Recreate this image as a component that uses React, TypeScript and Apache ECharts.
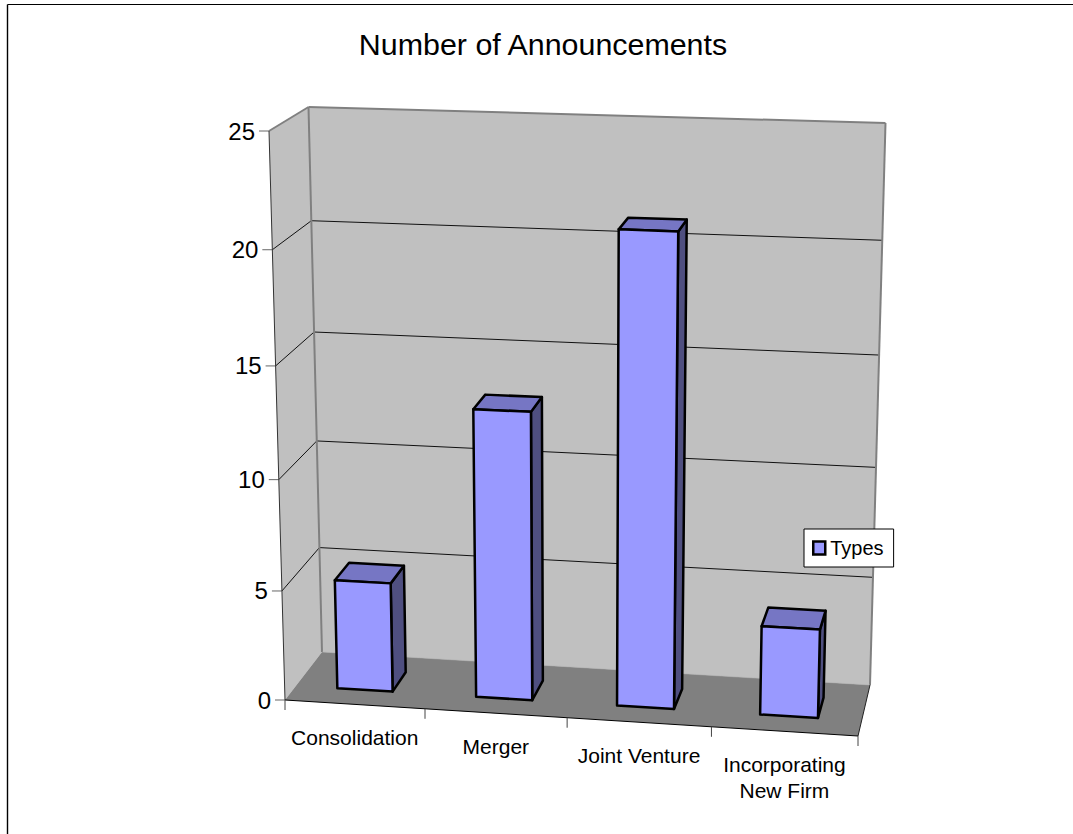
import React, { useEffect, useRef } from "react";
import * as echarts from "echarts";

const categories = ["Consolidation", "Merger", "Joint Venture", "Incorporating\nNew Firm"];
const typeCounts = [5, 13, 21, 4];
const valueTicks = [0, 5, 10, 15, 20, 25];
const titleText = "Number of Announcements";
const seriesName = "Types";

const FONT = '"Liberation Sans", Arial, sans-serif';
const VALUE_MAX = 25;

// Corners of the chart box as seen in perspective: [x, y] for front/back, bottom/top, left/right.
const BOX = {
  front: { bl: [285, 700], br: [858, 736], tl: [269, 131], tr: [873, 149] },
  back: { bl: [322, 652], br: [870, 685], tl: [308.5, 107], tr: [885.5, 123] },
};
// Homogeneous weights that give the receding, slightly uneven spacing along each edge.
const cornerWeight = (u: number, t: number) => (1 - 0.03 * u) * (1 - 0.052 * t);

// Maps a unit position in the box (u across, t up, d into the page) to screen pixels.
function project(u: number, t: number, d: number): number[] {
  let nx = 0;
  let ny = 0;
  let den = 0;
  const planes: [number, typeof BOX.front][] = [
    [0, BOX.front],
    [1, BOX.back],
  ];
  for (const [pd, plane] of planes) {
    const corners: [number, number, number[]][] = [
      [0, 0, plane.bl],
      [1, 0, plane.br],
      [0, 1, plane.tl],
      [1, 1, plane.tr],
    ];
    for (const [cu, ct, p] of corners) {
      const b = (cu ? u : 1 - u) * (ct ? t : 1 - t) * (pd ? d : 1 - d) * cornerWeight(cu, ct);
      nx += b * p[0];
      ny += b * p[1];
      den += b;
    }
  }
  return [nx / den, ny / den];
}

const GRID = { left: 100, top: 100, width: 800, height: 500 };
const WALL = "#c0c0c0";
const FLOOR = "#808080";
const EDGE = "#808080";
const BAR_FRONT = "#9999ff";
const BAR_TOP = "#7676c4";
const BAR_SIDE = "#4f4f80";
const BAR_DEPTH: [number, number] = [0.3, 0.7];
const BAR_SHARE = 0.4;
const BAR_STROKE = 2.5;

const poly = (points: number[][], fill: string, stroke?: string, lineWidth = 1) => ({
  type: "polygon",
  shape: { points },
  style: { fill, stroke: stroke ?? "none", lineWidth, lineJoin: "round" },
});
const seg = (a: number[], b: number[], stroke: string, lineWidth = 1) => ({
  type: "line",
  shape: { x1: a[0], y1: a[1], x2: b[0], y2: b[1] },
  style: { stroke, lineWidth, fill: "none" },
});

// Grey walls, floor, gridlines, ticks and the axis labels of the box.
function renderFrame(params: any, api: any) {
  const g = params.coordSys;
  const toT = (v: number) => 1 - (api.coord([0, v])[1] - g.y) / g.height;
  const band = api.size([1, 0])[0];
  const children: any[] = [];

  children.push(poly([project(0, 0, 0), project(0, 1, 0), project(0, 1, 1), project(0, 0, 1)], WALL));
  children.push(poly([project(0, 0, 1), project(0, 1, 1), project(1, 1, 1), project(1, 0, 1)], WALL));
  children.push(poly([project(0, 0, 0), project(0, 0, 1), project(1, 0, 1), project(1, 0, 0)], FLOOR));

  for (const v of valueTicks) {
    const t = toT(v);
    const front = project(0, t, 0);
    const back = project(0, t, 1);
    const right = project(1, t, 1);
    if (v > 0 && v < VALUE_MAX) {
      children.push(seg(front, back, "#111", 1));
      children.push(seg(back, right, "#111", 1));
    }
    children.push(seg([front[0] - 10, front[1]], front, "#666", 1));
    children.push({
      type: "text",
      style: {
        text: String(v),
        x: front[0] - 14,
        y: front[1],
        align: "right",
        verticalAlign: "middle",
        fill: "#000",
        font: `24px ${FONT}`,
      },
    });
  }

  // Wall outlines
  children.push(seg(project(0, 1, 0), project(0, 1, 1), EDGE, 2));
  children.push(seg(project(0, 1, 1), project(1, 1, 1), EDGE, 2));
  children.push(seg(project(0, 0, 1), project(0, 1, 1), EDGE, 2));
  children.push(seg(project(1, 0, 1), project(1, 1, 1), EDGE, 2));
  children.push(seg(project(0, 0, 1), project(1, 0, 1), "#b0b0b0", 0.5));

  // Front axis lines
  children.push(seg(project(0, 0, 0), project(0, 1, 0), "#333", 1));
  children.push(seg(project(0, 0, 0), project(1, 0, 0), "#000", 1));
  children.push(seg(project(1, 0, 0), project(1, 0, 1), "#222", 1));

  // Category ticks and labels along the front edge
  const uStep = band / g.width;
  for (let i = 0; i <= categories.length; i++) {
    const p = project(i * uStep, 0, 0);
    children.push(seg(p, [p[0], p[1] + 10], "#444", 1));
  }
  categories.forEach((name, i) => {
    const u = (api.coord([i, 0])[0] - g.x) / g.width;
    const p = project(u, 0, 0);
    children.push({
      type: "text",
      style: {
        text: name,
        x: p[0],
        y: p[1] + 20,
        align: "center",
        verticalAlign: "top",
        fill: "#000",
        font: `21px ${FONT}`,
        lineHeight: 26,
      },
    });
  });

  return { type: "group", children };
}

// One prism per data item: value and category both go through the chart's scales.
function renderPrism(params: any, api: any) {
  const g = params.coordSys;
  const idx = api.value(0);
  const base = api.coord([idx, 0]);
  const top = api.coord([idx, api.value(1)]);
  const half = (api.size([1, 0])[0] * BAR_SHARE) / 2;
  const u0 = (base[0] - half - g.x) / g.width;
  const u1 = (base[0] + half - g.x) / g.width;
  const t = 1 - (top[1] - g.y) / g.height;
  const [d0, d1] = BAR_DEPTH;

  return {
    type: "group",
    children: [
      poly([project(u1, 0, d0), project(u1, t, d0), project(u1, t, d1), project(u1, 0, d1)], BAR_SIDE, "#000", BAR_STROKE),
      poly([project(u0, t, d0), project(u0, t, d1), project(u1, t, d1), project(u1, t, d0)], BAR_TOP, "#000", BAR_STROKE),
      poly([project(u0, 0, d0), project(u0, t, d0), project(u1, t, d0), project(u1, 0, d0)], BAR_FRONT, "#000", BAR_STROKE),
    ],
  };
}

export default function App() {
  const ref = useRef<HTMLDivElement>(null);

  useEffect(() => {
    const chart = echarts.init(ref.current!, undefined, { renderer: "svg" });
    chart.setOption({
      animation: false,
      backgroundColor: "#fff",
      title: {
        text: titleText,
        left: 538,
        top: 24,
        textAlign: "center",
        textStyle: { fontFamily: FONT, fontSize: 30.4, fontWeight: "normal", color: "#000" },
      },
      grid: GRID,
      xAxis: { type: "category", data: categories, show: false },
      yAxis: { type: "value", min: 0, max: VALUE_MAX, interval: 5, show: false },
      legend: {
        data: [{ name: seriesName, icon: "rect" }],
        left: 804,
        top: 529,
        orient: "horizontal",
        padding: [9, 10, 9, 8],
        itemWidth: 12,
        itemHeight: 13,
        backgroundColor: "#fff",
        borderColor: "#000",
        borderWidth: 1,
        selectedMode: false,
        itemStyle: { color: BAR_FRONT, borderColor: "#000", borderWidth: 2.5 },
        textStyle: { fontFamily: FONT, fontSize: 20, color: "#000", padding: [0, 0, 0, 0] },
      },
      graphic: [
        { type: "line", shape: { x1: 7.5, y1: 4.5, x2: 1073, y2: 4.5 }, style: { stroke: "#000", lineWidth: 1.2 } },
        { type: "line", shape: { x1: 7.5, y1: 4.5, x2: 7.5, y2: 834 }, style: { stroke: "#000", lineWidth: 1.4 } },
      ],
      series: [
        {
          name: "frame",
          type: "custom",
          coordinateSystem: "cartesian2d",
          clip: false,
          silent: true,
          data: [[0, 0]],
          renderItem: renderFrame,
          z: 1,
        },
        {
          name: seriesName,
          type: "custom",
          coordinateSystem: "cartesian2d",
          clip: false,
          itemStyle: { color: BAR_FRONT },
          encode: { x: 0, y: 1 },
          data: typeCounts.map((v, i) => [i, v]),
          renderItem: renderPrism,
          z: 2,
        },
      ],
    });
    return () => chart.dispose();
  }, []);

  return <div ref={ref} style={{ position: "fixed", left: 0, top: 0, width: 1073, height: 834 }} />;
}
